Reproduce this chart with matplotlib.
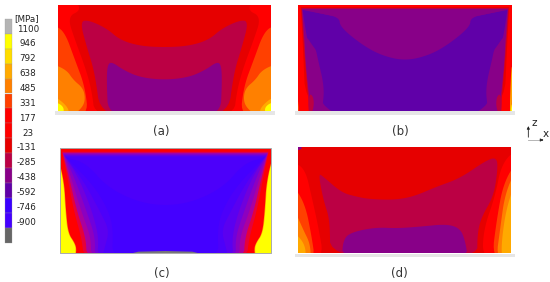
import matplotlib
matplotlib.use('Agg')
import matplotlib.pyplot as plt
from matplotlib.patches import Rectangle

# legend of the stress plot
level_labels = ['1100', '946', '792', '638', '485', '331', '177', '23', '-131',
                '-285', '-438', '-592', '-746', '-900']
level_colors = ['#b4b4b4', '#ffff00', '#ffdd00', '#ffaa00', '#ff8000', '#ff4000',
                '#ff0000', '#ff0000', '#e60000', '#bb0044', '#880088', '#6000a8',
                '#3a00ff', '#4400ff', '#666666']

YEL, GOLD, AMB, ORG, ORED, RED, DRED, CRIM, PUR, VIO = (
    '#ffff00', '#ffdd00', '#ffaa00', '#ff8000', '#ff4000',
    '#ff0000', '#e60000', '#bb0044', '#880088', '#6000a8')
BLUE = '#4400ff'

# contour bands in 3x crop units
# chains that start and end on the centre line get closed by mirroring,
# anything else with a centre given is just drawn twice
# a point written three times stays a sharp corner after smoothing
a_rect = (24, 14, 662, 333)
a_center = 343
a_bands = [
    (ORED, [(24, 75), (42, 90), (75, 180), (105, 260), (115, 333), (24, 333)]),
    (ORG, [(24, 190), (50, 210), (70, 240), (100, 265), (106, 300), (95, 325), (60, 333), (24, 333)]),
    (AMB, [(24, 280), (60, 325), (50, 333), (24, 333)]),
    (YEL, [(24, 300), (45, 320), (35, 333), (24, 333)]),
    (DRED, [(343, 14), (70, 14), (95, 30), (52, 50), (75, 120), (105, 200), (125, 270), (135, 333), (343, 333)]),
    (CRIM, [(343, 142), (270, 138), (210, 120), (170, 85), (115, 60), (90, 65), (110, 140), (135, 220), (152, 333), (343, 333)]),
    (PUR, [(343, 240), (270, 232), (220, 210), (185, 185), (172, 195), (170, 250), (175, 333), (343, 333)]),
]

b_rect = (54, 14, 697, 333)
b_center = 375
b_bands = [
    (AMB, [(54, 150), (62, 333), (54, 333)]),
    (YEL, [(54, 300), (60, 333), (54, 333)]),
    (DRED, [(375, 21), (62, 21), (62, 21), (62, 21), (68, 120), (78, 333), (375, 333)]),
    (CRIM, [(375, 24), (64, 24), (64, 24), (64, 24), (72, 150), (85, 300), (90, 333), (375, 333)]),
    (PUR, [(375, 28), (66, 28), (66, 28), (66, 28), (72, 100), (85, 280), (100, 333), (375, 333)]),
    (VIO, [(375, 50), (178, 52), (120, 40), (68, 30), (68, 30), (68, 30), (78, 100), (100, 200), (130, 333), (375, 333)]),
    (PUR, [(73, 100), (100, 140), (108, 150), (113, 175), (133, 260), (128, 320), (120, 333), (90, 333), (88, 280), (78, 200)]),
    (CRIM, [(88, 280), (100, 290), (102, 320), (90, 333), (84, 320)]),
    (PUR, [(375, 28), (66, 28), (66, 28), (66, 28), (120, 40), (178, 52), (180, 80), (240, 130), (300, 165), (375, 183)]),
]

c_rect = (30, 24, 662, 340)
c_center = 346
c_bands = [
    (AMB, [(346, 24), (30, 24), (30, 24), (30, 24), (40, 115), (46, 215), (53, 280), (72, 308), (78, 328), (72, 340), (346, 340)]),
    (RED, [(346, 24), (30, 24), (30, 24), (30, 24), (42, 115), (48, 215), (55, 280), (74, 308), (80, 328), (74, 340), (346, 340)]),
    ('#e6003a', [(346, 35), (36, 35), (36, 35), (36, 35), (53, 115), (72, 215), (95, 295), (102, 340), (346, 340)]),
    ('#aa00a0', [(346, 38), (38, 38), (38, 38), (38, 38), (58, 115), (81, 215), (108, 295), (110, 340), (346, 340)]),
    ('#8c00c0', [(346, 41), (40, 41), (40, 41), (40, 41), (64, 115), (94, 215), (124, 295), (122, 340), (346, 340)]),
    ('#7000dc', [(346, 44), (42, 44), (42, 44), (42, 44), (74, 115), (110, 215), (137, 295), (132, 340), (346, 340)]),
    ('#5a00f0', [(346, 47), (44, 47), (44, 47), (44, 47), (87, 115), (127, 215), (147, 295), (140, 340), (346, 340)]),
    ('#4c00fa', [(346, 50), (46, 50), (46, 50), (46, 50), (105, 130), (150, 215), (178, 270), (165, 320), (155, 340), (346, 340)]),
    (BLUE, [(346, 198), (260, 185), (170, 140), (110, 70), (48, 52), (48, 52), (48, 52), (130, 135), (175, 210), (190, 270), (185, 340), (346, 340)]),
]

d_rect = (55, 22, 692, 340)
d_bands = [
    (RED, [(55, 65), (75, 85), (95, 170), (115, 260), (132, 340), (55, 340)]),
    (ORED, [(55, 130), (75, 190), (95, 290), (105, 340), (55, 340)]),
    (ORG, [(55, 190), (70, 270), (90, 310), (93, 340), (55, 340)]),
    (AMB, [(55, 270), (75, 310), (78, 340), (55, 340)]),
    (RED, [(692, 25), (665, 70), (645, 170), (610, 270), (608, 340), (692, 340)]),
    (ORED, [(692, 60), (670, 130), (650, 240), (635, 340), (692, 340)]),
    (ORG, [(692, 80), (675, 160), (660, 270), (648, 340), (692, 340)]),
    (AMB, [(692, 110), (680, 200), (665, 300), (665, 340), (692, 340)]),
    (CRIM, [(115, 100), (130, 110), (185, 158), (230, 170), (265, 177), (340, 180), (400, 170), (470, 140),
            (540, 115), (620, 60), (652, 52), (652, 100), (640, 170), (605, 230), (592, 280), (592, 340),
            (150, 340), (150, 240), (130, 180)]),
    (PUR, [(185, 340), (190, 295), (220, 275), (290, 262), (350, 265), (420, 260), (500, 252), (540, 265),
           (555, 300), (565, 340)]),
    (PUR, [(55, 22), (75, 25), (55, 35)]),
]


def crop_axes(fig, x, y, w, h):
    # axes covering a piece of the picture, its data units are 3x crop pixels
    ax = fig.add_axes([x / 550, 1 - (y + h) / 282, w / 550, h / 282])
    ax.set_xlim(0, w * 3)
    ax.set_ylim(h * 3, 0)
    ax.axis('off')
    return ax


def push_out(pts, rect):
    # vertices on the panel edge go outside so smoothing doesnt eat the corners
    x0, top, x1, bot = rect
    out = []
    for x, y in pts:
        if x == x0:
            x -= 20
        if x == x1:
            x += 20
        if y == top:
            y -= 20
        if y == bot:
            y += 20
        out.append((x, y))
    return out


def smooth(pts, rounds=3):
    # corner cutting on a closed outline
    for _ in range(rounds):
        new = []
        for i, p in enumerate(pts):
            q = pts[(i + 1) % len(pts)]
            new.append((0.75 * p[0] + 0.25 * q[0], 0.75 * p[1] + 0.25 * q[1]))
            new.append((0.25 * p[0] + 0.75 * q[0], 0.25 * p[1] + 0.75 * q[1]))
        pts = new
    return pts


def fill_band(ax, color, pts, rect, center=None):
    clip = Rectangle((rect[0], rect[1]), rect[2] - rect[0], rect[3] - rect[1], transform=ax.transData)
    outlines = [pts]
    if center is not None:
        mirrored = [(2 * center - x, y) for x, y in pts]
        if pts[0][0] == center and pts[-1][0] == center:
            outlines = [pts + mirrored[-2:0:-1]]
        else:
            outlines.append(mirrored)
    for line in outlines:
        line = smooth(push_out(line, rect))
        patches = ax.fill([p[0] for p in line], [p[1] for p in line], color=color, lw=0)
        patches[0].set_clip_path(clip)


def rect_band(ax, rect, color):
    x0, top, x1, bot = rect
    ax.fill([x0, x1, x1, x0], [top, top, bot, bot], color=color, lw=0)


plt.rcParams['font.family'] = 'DejaVu Sans'
fig = plt.figure(figsize=(5.5, 2.82), dpi=100)

# colour scale
cax = crop_axes(fig, 0, 0, 60, 250)
seg = 44.7
bottoms = [57 + i * seg for i in range(len(level_colors))]
cax.bar([25] * len(level_colors), [seg] * len(level_colors), width=23, bottom=bottoms,
        color=level_colors, edgecolor='#999999', linewidth=0.2)
cax.text(80, 56, '[MPa]', ha='center', va='center', fontsize=6.3, color='#222222')
for i, lab in enumerate(level_labels):
    cax.text(83 if not lab.startswith('-') else 79, 87 + i * 44.6, lab, ha='center', va='center',
             fontsize=6.3, color='#222222')

# (a)
ax = crop_axes(fig, 50, 0, 230, 140)
ax.fill([14, 675, 675, 14], [333, 333, 345, 345], color='#e6e6e6', lw=0)
rect_band(ax, a_rect, RED)
for col, pts in a_bands:
    fill_band(ax, col, pts, a_rect, a_center)
ax.text(333, 393, '(a)', ha='center', va='center', fontsize=8.5, color='#333333')

# (b)
ax = crop_axes(fig, 280, 0, 270, 140)
ax.fill([45, 705, 705, 45], [333, 333, 345, 345], color='#e6e6e6', lw=0)
rect_band(ax, b_rect, RED)
for col, pts in b_bands:
    fill_band(ax, col, pts, b_rect, b_center)
ax.text(360, 393, '(b)', ha='center', va='center', fontsize=8.5, color='#333333')

# (c)
ax = crop_axes(fig, 50, 140, 230, 142)
rect_band(ax, c_rect, YEL)
for col, pts in c_bands:
    fill_band(ax, col, pts, c_rect, c_center)
ax.fill([245, 265, 346, 427, 447], [340, 335, 333, 335, 340], color='#777777', lw=0)
ax.plot([30, 662, 662, 30, 30], [24, 24, 340, 340, 24], color='#aaaaaa', lw=0.7)
ax.text(334, 402, '(c)', ha='center', va='center', fontsize=8.5, color='#333333')

# (d)
ax = crop_axes(fig, 280, 140, 270, 142)
ax.fill([45, 705, 705, 45], [341, 341, 350, 350], color='#e6e6e6', lw=0)
rect_band(ax, d_rect, DRED)
for col, pts in d_bands:
    fill_band(ax, col, pts, d_rect)
ax.text(358, 400, '(d)', ha='center', va='center', fontsize=8.5, color='#333333')

# z-x triad
tax = crop_axes(fig, 510, 110, 40, 40)
tax.annotate('', xy=(55, 40), xytext=(55, 90),
             arrowprops=dict(arrowstyle='-|>', color='#222222', lw=0.6, mutation_scale=4))
tax.plot([55, 92], [90, 90], color='#aaaaaa', lw=0.6)
tax.annotate('', xy=(100, 90), xytext=(88, 90),
             arrowprops=dict(arrowstyle='-|>', color='#222222', lw=0.6, mutation_scale=4))
tax.text(72, 40, 'z', ha='center', va='center', fontsize=7.5, color='#222222')
tax.text(107, 72, 'x', ha='center', va='center', fontsize=7.5, color='#222222')

fig.savefig('out.png', dpi=100)
